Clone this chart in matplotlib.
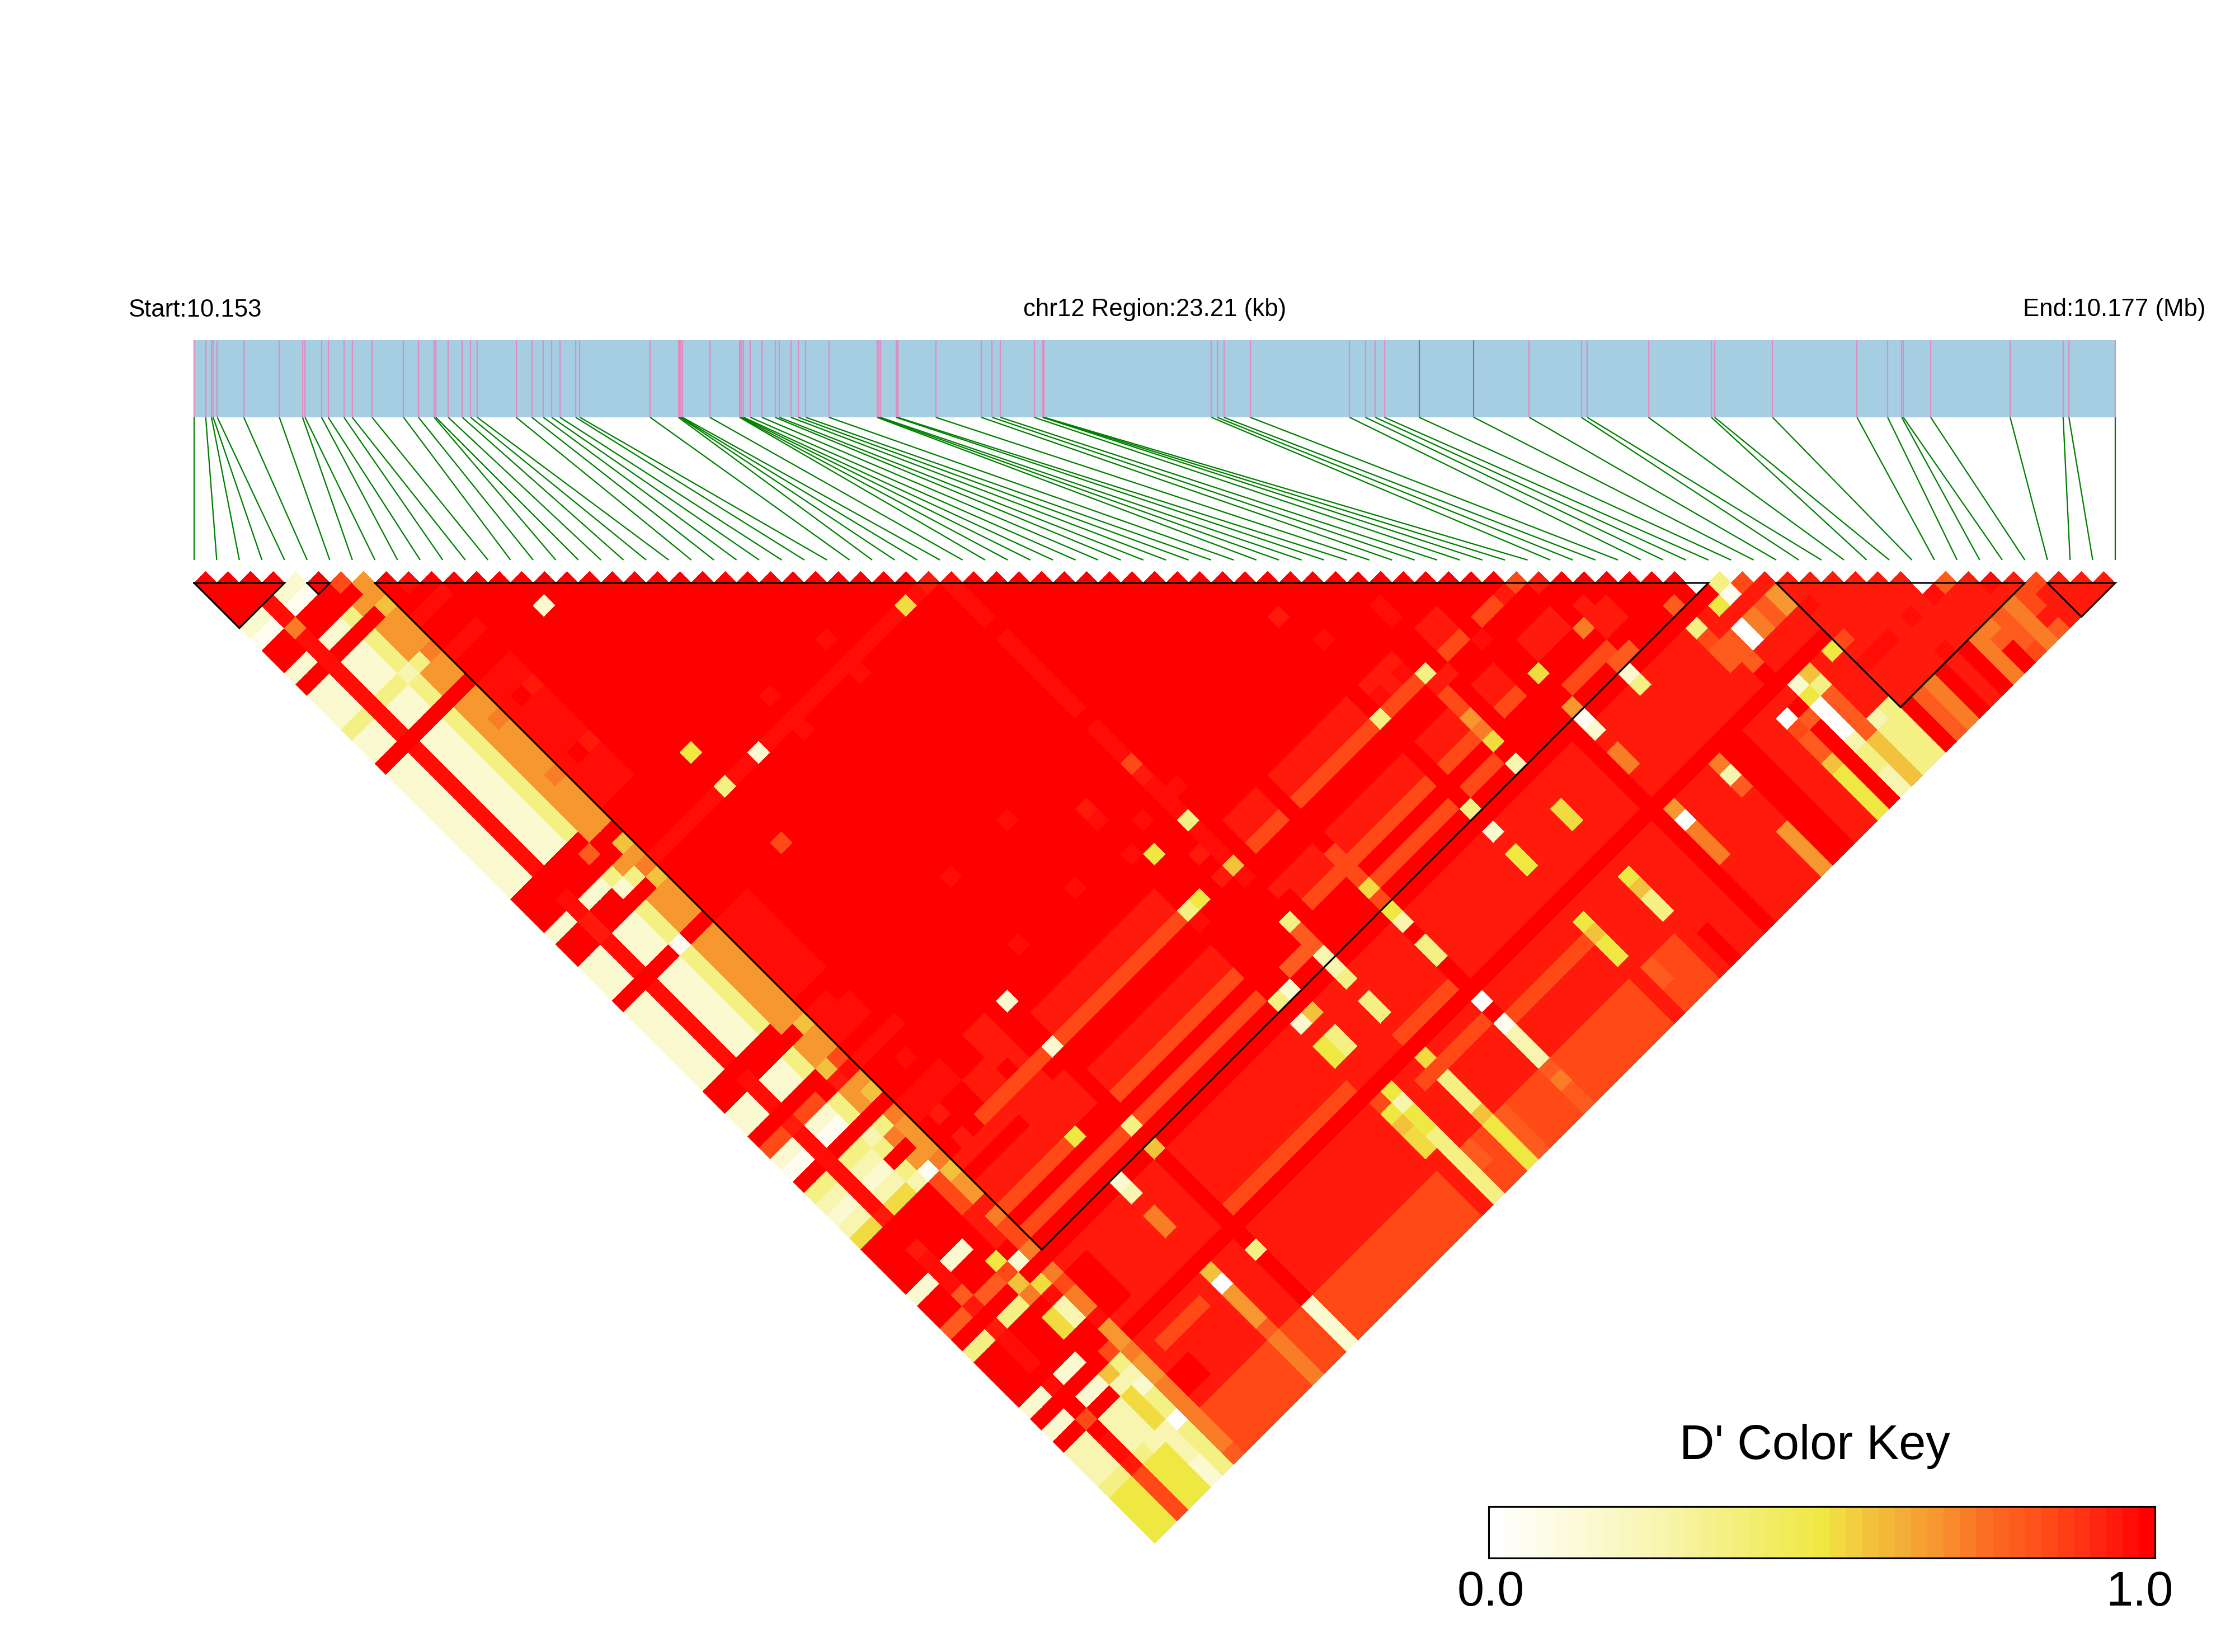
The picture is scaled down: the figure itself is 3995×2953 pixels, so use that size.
import matplotlib
matplotlib.use('Agg')
import matplotlib.pyplot as plt
from matplotlib.collections import PolyCollection, LineCollection
from matplotlib.colors import LinearSegmentedColormap
from matplotlib.patches import Rectangle
import numpy as np

plt.rcParams['font.family'] = ['Liberation Sans', 'DejaVu Sans']

# snp positions along the region, kb from the start
snp_kb = [0.00, 0.14, 0.21, 0.23, 0.28, 0.60, 1.03, 1.31, 1.34, 1.54, 1.62, 1.81, 1.91, 2.15, 2.53, 2.71, 2.90,
          2.92, 3.07, 3.24, 3.34, 3.42, 3.89, 4.08, 4.22, 4.32, 4.42, 4.61, 4.66, 5.51, 5.85, 5.87, 5.88, 5.90,
          6.23, 6.59, 6.60, 6.62, 6.64, 6.72, 6.86, 7.02, 7.07, 7.21, 7.30, 7.39, 7.67, 8.25, 8.27, 8.29, 8.48,
          8.50, 8.96, 9.51, 9.64, 9.74, 10.15, 10.25, 10.26, 10.27, 12.29, 12.36, 12.44, 12.76, 13.96, 14.15,
          14.27, 14.38, 14.80, 15.46, 16.13, 16.76, 16.83, 17.57, 18.33, 18.37, 19.07, 20.09, 20.46, 20.63,
          20.65, 20.98, 21.94, 22.58, 22.65, 23.21]
grey_snps = [68, 69]
total_kb = 23.21

# D' levels read against the colour key
levels = {'R': 1.0, 'r': 0.97, 'q': 0.93, 'o': 0.85, 'n': 0.8, 'N': 0.73, 'm': 0.66, 'M': 0.58,
          'Y': 0.53, 'y': 0.5, 'l': 0.36, 'k': 0.26, 'c': 0.16, 'w': 0.07, 'W': 0.0}

# haplotype blocks, first and last snp
blocks = [(0, 4), (5, 6), (8, 67), (70, 81), (82, 85)]

# columns j, values for snps i = 0..7
left_cols = {
    9: 'ccrcclmm', 10: 'RRrRRRRM', 11: 'ccrcclmm', 12: 'ccrcclmm', 13: 'ccrcclmm', 14: 'llrllklN',
    15: 'ccrcclmm', 16: 'ccrcclmm', 17: 'RRRRRRRR', 18: 'ccrcclmm', 19: 'ccrcclmm', 20: 'ccrcclmN',
    21: 'ccrcclmm', 22: 'ccrcclmm', 23: 'ccrcclmm', 24: 'ccrcclmm', 25: 'ccrcclmN', 26: 'ccrcclmm',
    27: 'ccrcclmm', 28: 'ccrcclmm', 29: 'RRRRRRmm', 30: 'RRRRRnRR', 31: 'RRrRRRRM', 32: 'ccrcclmm',
    33: 'RRqRRclN', 34: 'RRqRRRRM', 35: 'ccrcclmm', 36: 'ccrcclmm', 37: 'ccrcclmm', 38: 'RRRRRwRR',
    39: 'ccrcclmm', 40: 'ccrcclmm', 41: 'ccrcclmm', 42: 'ccrcclmm', 43: 'ccrcclmm', 44: 'ccrcclmm',
    45: 'ccrcclmm', 46: 'RRRRRRmm', 47: 'RRrRRRRM', 48: 'ccrcclmm', 49: 'ccrcclmm', 50: 'RRRRRRMo',
    51: 'ooqooRqr', 52: 'ccrcclmm', 53: 'wwrwwlmM', 54: 'RRrRRRRR', 55: 'llrllklN', 56: 'kkrkklNm',
    57: 'ccrccRRm', 58: 'kkrkklmm', 59: 'YYqYYkwN', 60: 'RRRRRRoM', 61: 'RRRRRRom', 62: 'RRqRRRom',
    63: 'RRrRRRqq', 64: 'ccrccRqN', 65: 'RRrRRRqo', 66: 'RRnRRyRo', 67: 'nnqnnocN', 68: 'RRRRRMRR',
    69: 'llqllNYN', 70: 'RRrRRRro', 71: 'RRrRRYkN', 72: 'RRrRRYkN', 73: 'RRRRRRRr', 74: 'ccrccRRm',
    75: 'RRRRRRom', 76: 'ccRccMlN', 77: 'RRoRRkkm', 78: 'kkRkkYcm', 79: 'kkrkkYlN', 80: 'kkrkkYlN',
    81: 'llqlkkWN', 82: 'yyoyyklN', 83: 'yyoyyklN', 84: 'yyoyyclN', 85: 'yyoyycln',
}

# groups of snps that share the same column pattern inside the big block
pattern_rows = [(18, 28), (35, 37), (39, 45), (47, 49), (52, 53)]
pattern_cols = [(57, 'q'), (58, 'q'), (59, 'o'), (62, 'q'), (63, 'q'), (64, 'o')]

# constant-snp stripes: i, first j, last j, level
row_runs = [
    (8, 18, 28, 'r'), (9, 18, 28, 'r'), (10, 18, 28, 'r'), (8, 39, 45, 'r'), (9, 39, 45, 'r'), (10, 39, 45, 'r'),
    (8, 47, 49, 'r'), (9, 47, 49, 'r'), (10, 48, 49, 'r'), (8, 55, 56, 'r'), (9, 55, 56, 'r'), (10, 55, 56, 'r'),
    (11, 55, 56, 'r'), (14, 55, 57, 'q'), (15, 55, 58, 'q'), (12, 57, 58, 'q'), (13, 57, 58, 'q'),
    (13, 60, 63, 'q'), (14, 60, 63, 'q'), (15, 60, 63, 'q'), (16, 61, 63, 'q'),
    (33, 34, 37, 'r'), (33, 39, 45, 'r'), (33, 47, 49, 'r'), (33, 50, 50, 'o'), (33, 51, 51, 'q'),
    (33, 52, 54, 'r'), (33, 56, 58, 'r'), (33, 60, 60, 'r'),
    (17, 69, 76, 'R'), (17, 78, 81, 'R'), (17, 82, 85, 'c'), (14, 78, 80, 'm'), (14, 82, 85, 'N'),
    (38, 70, 77, 'R'), (54, 69, 85, 'R'), (51, 83, 85, 'R'), (60, 76, 85, 'R'), (61, 76, 85, 'R'),
    (65, 74, 85, 'R'), (70, 82, 85, 'R'), (73, 82, 85, 'R'), (75, 82, 85, 'R'), (29, 82, 85, 'q'),
    (31, 82, 83, 'n'), (34, 82, 85, 'n'), (46, 82, 85, 'q'), (47, 82, 83, 'n'), (50, 82, 85, 'q'),
    (59, 82, 85, 'm'), (62, 82, 85, 'q'), (64, 82, 85, 'y'), (67, 82, 85, 'M'), (68, 82, 85, 'l'),
    (69, 82, 85, 'l'), (72, 82, 85, 'N'), (71, 82, 85, 'n'), (74, 82, 85, 'q'), (76, 82, 85, 'N'),
    (78, 82, 85, 'n'), (79, 82, 85, 'N'), (33, 78, 80, 'l'), (33, 82, 85, 'y'), (38, 79, 81, 'k'),
    (30, 80, 85, 'l'), (38, 63, 65, 'o'), (60, 63, 65, 'q'), (61, 64, 65, 'q'),
    (8, 70, 73, 'R'), (9, 70, 73, 'R'),
]

# constant-snp stripes the other way: j, first i, last i, level
col_runs = [
    (12, 8, 10, 'r'), (15, 8, 10, 'r'), (33, 8, 32, 'r'), (51, 8, 11, 'r'),
    (66, 8, 28, 'o'), (66, 31, 33, 'n'), (66, 39, 45, 'o'), (66, 47, 49, 'o'), (66, 56, 59, 'o'),
    (59, 11, 16, 'o'), (60, 8, 12, 'q'), (62, 8, 13, 'q'), (63, 8, 13, 'q'), (64, 8, 13, 'o'),
    (62, 34, 34, 'q'), (62, 56, 58, 'q'), (63, 56, 58, 'q'),
    (68, 8, 66, 'R'), (75, 8, 69, 'R'), (74, 18, 28, 'o'), (74, 33, 37, 'o'), (77, 32, 37, 'o'),
    (78, 39, 45, 'o'), (81, 8, 16, 'q'), (77, 9, 12, 'o'),
]

# single cells
single_cells = [
    (0, 5, 'c'), (1, 5, 'c'), (2, 5, 'r'), (3, 5, 'c'), (4, 5, 'c'), (0, 6, 'w'), (1, 6, 'w'), (2, 6, 'r'),
    (3, 6, 'w'), (4, 6, 'w'), (2, 7, 'N'), (6, 7, 'o'), (2, 8, 'r'), (7, 8, 'm'), (9, 10, 'r'),
    (14, 17, 'c'), (14, 30, 'y'), (14, 33, 'l'), (17, 33, 'c'), (30, 33, 'Y'), (14, 38, 'o'), (25, 31, 'r'),
    (20, 31, 'r'), (25, 34, 'r'), (20, 34, 'r'), (46, 50, 'q'), (47, 53, 'r'), (51, 54, 'r'), (51, 55, 'r'),
    (29, 50, 'q'), (29, 51, 'r'), (31, 53, 'r'), (25, 47, 'r'), (29, 54, 'r'), (30, 55, 'y'), (34, 53, 'r'),
    (33, 55, 'l'), (33, 59, 'M'), (32, 57, 'q'), (32, 59, 'q'), (30, 59, 'y'), (29, 59, 'l'), (29, 60, 'r'),
    (20, 47, 'r'), (25, 53, 'r'), (20, 53, 'r'), (9, 20, 'R'), (10, 20, 'q'), (9, 25, 'R'), (10, 25, 'q'),
    (17, 55, 'c'), (17, 59, 'c'), (17, 66, 'l'), (14, 64, 'y'), (29, 67, 'l'), (30, 67, 'c'), (33, 67, 'k'),
    (66, 67, 'W'), (58, 59, 'o'), (32, 33, 'q'), (46, 59, 'l'), (55, 64, 'Y'), (50, 59, 'l'), (50, 65, 'Y'),
    (50, 67, 'k'), (55, 67, 'm'), (46, 67, 'l'), (64, 67, 'n'), (10, 53, 'r'), (9, 57, 'q'), (9, 59, 'q'),
    (49, 57, 'q'), (48, 57, 'q'), (47, 57, 'q'), (49, 58, 'r'), (47, 58, 'r'), (48, 59, 'o'), (47, 59, 'o'),
    (54, 60, 'r'), (51, 60, 'q'), (50, 60, 'q'), (50, 61, 'o'), (50, 62, 'o'), (50, 63, 'm'), (50, 64, 'N'),
    (57, 59, 'q'), (56, 59, 'o'), (55, 59, 'o'), (59, 60, 'q'), (59, 64, 'N'), (60, 67, 'n'), (59, 67, 'n'),
    (33, 64, 'l'), (38, 66, 'Y'), (38, 68, 'y'), (33, 66, 'n'), (33, 65, 'n'), (38, 67, 'o'),
    (17, 68, 'M'), (33, 68, 'k'), (14, 68, 'c'), (55, 68, 'w'), (59, 68, 'c'), (67, 68, 'l'), (68, 69, 'o'),
    (14, 69, 'k'), (33, 69, 'l'), (30, 69, 'M'), (29, 69, 'c'), (59, 69, 'l'), (55, 69, 'c'), (67, 69, 'w'),
    (66, 69, 'y'), (64, 69, 'l'), (69, 71, 'm'), (69, 72, 'm'), (68, 71, 'n'), (68, 72, 'n'), (67, 71, 'N'),
    (67, 72, 'N'), (66, 71, 'W'), (66, 72, 'W'), (64, 70, 'o'), (64, 71, 'n'), (64, 72, 'n'), (65, 71, 'n'),
    (65, 72, 'n'), (65, 73, 'n'), (14, 71, 'N'), (14, 72, 'N'), (33, 71, 'l'), (33, 72, 'l'), (29, 71, 'y'),
    (29, 72, 'y'), (30, 71, 'l'), (30, 72, 'l'), (38, 69, 'k'), (38, 71, 'l'), (38, 72, 'l'), (46, 69, 'c'),
    (46, 71, 'y'), (46, 72, 'y'), (50, 71, 'Y'), (50, 72, 'Y'), (14, 76, 'M'), (14, 77, 'W'), (14, 81, 'n'),
    (17, 77, 'l'), (30, 76, 'y'), (30, 77, 'k'), (30, 78, 'y'), (30, 79, 'y'), (29, 76, 'o'), (29, 77, 'y'),
    (29, 78, 'M'), (29, 79, 'Y'), (29, 80, 'Y'), (33, 76, 'Y'), (33, 81, 'M'), (38, 76, 'W'), (38, 78, 'w'),
    (38, 82, 'n'), (38, 83, 'N'), (38, 84, 'n'), (38, 85, 'n'), (46, 77, 'y'), (46, 78, 'M'), (46, 79, 'y'),
    (46, 80, 'y'), (50, 77, 'y'), (50, 78, 'M'), (50, 79, 'l'), (50, 80, 'l'), (55, 76, 'm'), (55, 77, 'W'),
    (55, 78, 'N'), (55, 79, 'N'), (55, 80, 'N'), (59, 76, 'N'), (59, 77, 'k'), (59, 78, 'n'), (64, 77, 'W'),
    (64, 78, 'o'), (64, 79, 'n'), (64, 80, 'n'), (64, 81, 'M'), (65, 76, 'q'), (65, 78, 'n'), (66, 76, 'c'),
    (66, 77, 'y'), (66, 78, 'W'), (66, 79, 'W'), (66, 80, 'W'), (66, 81, 'k'), (67, 76, 'M'), (67, 77, 'l'),
    (67, 78, 'n'), (67, 79, 'n'), (67, 80, 'n'), (67, 81, 'n'), (68, 81, 'k'), (69, 76, 'y'), (69, 81, 'l'),
    (70, 71, 'q'), (70, 72, 'q'), (70, 73, 'r'), (70, 76, 'o'), (71, 76, 'q'), (72, 76, 'q'), (70, 78, 'r'),
    (71, 78, 'r'), (72, 78, 'r'), (74, 78, 'r'), (76, 77, 'W'), (77, 78, 'n'), (76, 78, 'r'), (74, 81, 'r'),
    (79, 80, 'r'), (81, 82, 'o'), (80, 82, 'o'), (80, 83, 'o'), (80, 84, 'q'), (80, 85, 'n'), (81, 83, 'q'),
    (81, 84, 'q'), (81, 85, 'q'), (77, 84, 'R'), (77, 85, 'R'), (77, 83, 'n'), (77, 82, 'N'), (78, 85, 'o'),
    (66, 82, 'l'), (66, 83, 'l'), (66, 84, 'k'), (66, 85, 'k'), (31, 84, 'o'), (31, 85, 'o'),
    (32, 82, 'o'), (32, 83, 'o'), (32, 84, 'o'), (32, 85, 'o'), (55, 71, 'N'), (55, 72, 'N'),
]

# rectangles of one level: first i, last i, first j, last j
rect_runs = [
    (8, 13, 82, 85, 'o'), (15, 16, 82, 85, 'o'), (18, 28, 82, 85, 'o'), (35, 37, 82, 85, 'o'),
    (39, 45, 82, 85, 'o'), (47, 49, 84, 85, 'o'), (48, 49, 82, 83, 'o'), (8, 9, 79, 80, 'R'),
]

key_anchors = [(0.0, '#ffffff'), (0.25, '#f8f5b0'), (0.5, '#f0e842'), (0.58, '#f3c03c'), (0.67, '#f69a30'),
               (0.76, '#fb6a22'), (0.85, '#ff4a18'), (0.93, '#ff2410'), (1.0, '#ff0000')]
key_bins = 41

n_snp = len(snp_kb)

# fill the matrix, later entries paint over earlier ones
mat = np.ones((n_snp, n_snp))
mat[8:, 68:] = levels['q']
for a, b, c, d, ch in rect_runs:
    mat[a:b + 1, c:d + 1] = levels[ch]
for a, b in pattern_rows:
    for j, ch in pattern_cols:
        mat[a:b + 1, j] = levels[ch]
for j, a, b, ch in col_runs:
    mat[a:b + 1, j] = levels[ch]
for i, a, b, ch in row_runs:
    mat[i, a:b + 1] = levels[ch]
for j, vals in left_cols.items():
    for i, ch in enumerate(vals):
        mat[i, j] = levels[ch]
for i, j, ch in single_cells:
    mat[i, j] = levels[ch]

cmap = LinearSegmentedColormap.from_list('dprime', key_anchors, N=key_bins)

W, H = 3995, 2953
fig = plt.figure(figsize=(W / 300, H / 300), dpi=300)
ax = fig.add_axes([0, 0, 1, 1])
ax.set_xlim(0, W)
ax.set_ylim(H, 0)
ax.axis('off')

x0, x1 = 347, 3781
step = (x1 - x0) / (n_snp - 1)
y_top = 1042
half = step / 2

# region bar with the snp ticks
bar_top, bar_bot = 608, 746
ax.add_patch(Rectangle((x0, bar_top), x1 - x0, bar_bot - bar_top, fc='#a6cee3', ec='none'))
xs_phys = [x0 + k / total_kb * (x1 - x0) for k in snp_kb]
for n, xp in enumerate(xs_phys):
    col = '#808080' if n in grey_snps else '#e08cc0'
    ax.plot([xp, xp], [bar_top, bar_bot], color=col, lw=0.55, solid_capstyle='butt')

# connector lines down to the evenly spaced grid
segs = [[(xp, bar_bot), (x0 + n * step, 1001)] for n, xp in enumerate(xs_phys)]
ax.add_collection(LineCollection(segs, colors='#008000', linewidths=0.55))

# the heatmap cells
polys, cols = [], []
for i in range(n_snp):
    for j in range(i + 1, n_snp):
        cx = x0 + (i + j) / 2 * step
        cy = y_top + (j - i - 1) * half
        polys.append([(cx - half, cy), (cx, cy - half), (cx + half, cy), (cx, cy + half)])
        cols.append(cmap(mat[i, j]))
ax.add_collection(PolyCollection(polys, facecolors=cols, edgecolors='none', antialiaseds=False))

# block outlines
for a, b in blocks:
    xa = x0 + a * step
    xb = x0 + b * step
    tri = [(xa, y_top), ((xa + xb) / 2, y_top + (b - a) * half), (xb, y_top), (xa, y_top)]
    ax.plot(*zip(*tri), color='black', lw=0.75, solid_joinstyle='miter')

# labels
ax.text(229, 554, 'Start:10.153', fontsize=10.5, ha='left', va='center')
ax.text(2064, 554, 'chr12 Region:23.21 (kb)', fontsize=10.5, ha='center', va='center')
ax.text(3943, 554, 'End:10.177 (Mb)', fontsize=10.5, ha='right', va='center')

# colour key
kx0, kx1, ky0, ky1 = 2661, 3852, 2693, 2785
edges = np.linspace(kx0, kx1, key_bins + 1)
for b in range(key_bins):
    ax.add_patch(Rectangle((edges[b], ky0), edges[b + 1] - edges[b] + 0.5, ky1 - ky0,
                           fc=cmap(b / (key_bins - 1)), ec='none'))
ax.add_patch(Rectangle((kx0, ky0), kx1 - kx0, ky1 - ky0, fc='none', ec='black', lw=0.75))
ax.text(3244, 2608, "D' Color Key", fontsize=20.8, ha='center', va='baseline')
ax.text(2665, 2870, '0.0', fontsize=20.8, ha='center', va='baseline')
ax.text(3825, 2870, '1.0', fontsize=20.8, ha='center', va='baseline')

fig.savefig('out.png', dpi=300)
